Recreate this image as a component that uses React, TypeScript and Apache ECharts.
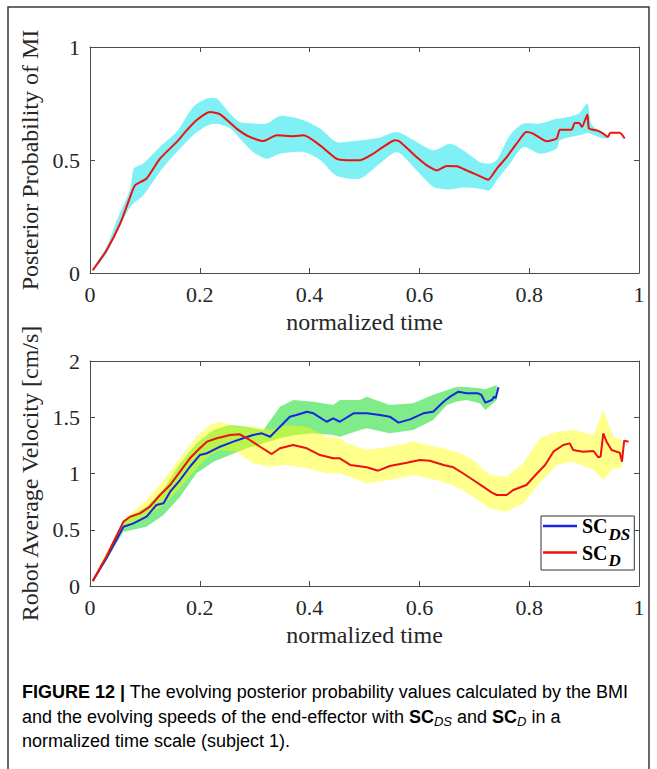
import React, { useEffect, useRef } from "react";
import * as echarts from "echarts";

// ---------- Top panel: posterior probability of MI ----------
const probT = [0.005, 0.03, 0.055, 0.073, 0.082, 0.103, 0.1275, 0.158, 0.176, 0.194, 0.2186, 0.237, 0.267, 0.291, 0.316, 0.34, 0.37, 0.389, 0.419, 0.449, 0.468, 0.492, 0.516, 0.534, 0.556, 0.565, 0.595, 0.613, 0.632, 0.65, 0.668, 0.686, 0.704, 0.716, 0.725, 0.741, 0.759, 0.777, 0.795, 0.807, 0.832, 0.85, 0.856, 0.877, 0.883, 0.891, 0.896, 0.906, 0.909, 0.923, 0.935, 0.943, 0.948, 0.965, 0.97, 0.974];
const probMean = [0.012, 0.1, 0.219, 0.336, 0.388, 0.418, 0.506, 0.58, 0.631, 0.676, 0.712, 0.702, 0.639, 0.602, 0.584, 0.609, 0.605, 0.609, 0.565, 0.506, 0.499, 0.499, 0.528, 0.558, 0.587, 0.58, 0.513, 0.477, 0.454, 0.474, 0.472, 0.454, 0.435, 0.422, 0.413, 0.462, 0.513, 0.572, 0.624, 0.617, 0.583, 0.595, 0.634, 0.634, 0.664, 0.664, 0.646, 0.701, 0.639, 0.631, 0.617, 0.602, 0.621, 0.621, 0.609, 0.595];
const probBandT = [0.005, 0.03, 0.05, 0.073, 0.08, 0.097, 0.127, 0.158, 0.188, 0.213, 0.231, 0.255, 0.273, 0.297, 0.322, 0.346, 0.389, 0.419, 0.449, 0.492, 0.528, 0.559, 0.595, 0.626, 0.656, 0.68, 0.71, 0.728, 0.741, 0.765, 0.789, 0.819, 0.85, 0.856, 0.89, 0.906, 0.913, 0.929, 0.94];
const probUpper = [0.02, 0.115, 0.24, 0.37, 0.462, 0.484, 0.558, 0.625, 0.735, 0.772, 0.772, 0.705, 0.668, 0.662, 0.661, 0.695, 0.676, 0.639, 0.58, 0.587, 0.6, 0.624, 0.58, 0.543, 0.572, 0.543, 0.491, 0.484, 0.5, 0.61, 0.66, 0.661, 0.683, 0.683, 0.705, 0.75, 0.66, 0.625, 0.605];
const probLower = [0.008, 0.085, 0.19, 0.292, 0.31, 0.344, 0.447, 0.535, 0.61, 0.652, 0.66, 0.64, 0.595, 0.535, 0.506, 0.528, 0.535, 0.5, 0.43, 0.418, 0.484, 0.535, 0.454, 0.381, 0.37, 0.378, 0.373, 0.366, 0.41, 0.484, 0.558, 0.528, 0.55, 0.587, 0.609, 0.62, 0.615, 0.6, 0.595];

// ---------- Bottom panel: robot average velocity ----------
const dsT = [0.005, 0.03, 0.061, 0.079, 0.103, 0.121, 0.134, 0.146, 0.164, 0.182, 0.2, 0.213, 0.237, 0.261, 0.279, 0.297, 0.313, 0.328, 0.346, 0.364, 0.376, 0.395, 0.407, 0.431, 0.443, 0.455, 0.48, 0.504, 0.528, 0.546, 0.562, 0.583, 0.607, 0.625, 0.644, 0.656, 0.671, 0.686, 0.707, 0.713, 0.72, 0.732, 0.736, 0.739, 0.744];
const dsMean = [0.044, 0.246, 0.527, 0.557, 0.616, 0.72, 0.735, 0.838, 0.942, 1.06, 1.164, 1.18, 1.238, 1.283, 1.313, 1.342, 1.357, 1.327, 1.416, 1.505, 1.52, 1.549, 1.535, 1.46, 1.49, 1.46, 1.535, 1.535, 1.52, 1.505, 1.452, 1.481, 1.535, 1.549, 1.638, 1.683, 1.727, 1.713, 1.713, 1.698, 1.63, 1.653, 1.683, 1.668, 1.766];
const dsBandT = [0.005, 0.061, 0.103, 0.134, 0.164, 0.194, 0.225, 0.255, 0.285, 0.316, 0.346, 0.37, 0.407, 0.443, 0.455, 0.492, 0.504, 0.546, 0.589, 0.625, 0.65, 0.668, 0.686, 0.71, 0.72, 0.741];
const dsUpper = [0.06, 0.58, 0.705, 0.86, 1.09, 1.268, 1.387, 1.431, 1.416, 1.387, 1.594, 1.653, 1.638, 1.609, 1.653, 1.653, 1.683, 1.609, 1.624, 1.7, 1.74, 1.772, 1.77, 1.757, 1.75, 1.787];
const dsLower = [0.03, 0.483, 0.527, 0.631, 0.794, 1.002, 1.105, 1.164, 1.224, 1.268, 1.313, 1.34, 1.357, 1.342, 1.327, 1.387, 1.402, 1.357, 1.387, 1.476, 1.609, 1.64, 1.653, 1.624, 1.564, 1.653];

const dT = [0.005, 0.03, 0.061, 0.073, 0.091, 0.109, 0.1275, 0.146, 0.164, 0.182, 0.2, 0.213, 0.231, 0.255, 0.273, 0.291, 0.31, 0.331, 0.346, 0.37, 0.395, 0.419, 0.443, 0.455, 0.474, 0.504, 0.525, 0.546, 0.577, 0.601, 0.619, 0.644, 0.662, 0.68, 0.698, 0.716, 0.732, 0.741, 0.759, 0.771, 0.795, 0.814, 0.829, 0.844, 0.862, 0.874, 0.88, 0.898, 0.917, 0.926, 0.93, 0.935, 0.941, 0.95, 0.959, 0.965, 0.969, 0.973, 0.981];
const dMean = [0.044, 0.262, 0.572, 0.616, 0.646, 0.705, 0.809, 0.898, 1.016, 1.135, 1.224, 1.283, 1.313, 1.342, 1.348, 1.298, 1.238, 1.173, 1.224, 1.253, 1.224, 1.164, 1.135, 1.135, 1.076, 1.055, 1.025, 1.067, 1.096, 1.12, 1.114, 1.076, 1.055, 1.0, 0.942, 0.883, 0.83, 0.809, 0.809, 0.853, 0.898, 1.0, 1.076, 1.194, 1.253, 1.268, 1.209, 1.194, 1.2, 1.144, 1.15, 1.357, 1.283, 1.209, 1.194, 1.185, 1.105, 1.292, 1.283];
const dBandT = [0.005, 0.061, 0.103, 0.134, 0.164, 0.194, 0.218, 0.237, 0.267, 0.297, 0.328, 0.358, 0.395, 0.431, 0.455, 0.468, 0.504, 0.546, 0.589, 0.631, 0.668, 0.698, 0.728, 0.759, 0.789, 0.819, 0.85, 0.88, 0.917, 0.935, 0.953, 0.969];
const dUpper = [0.06, 0.587, 0.764, 0.942, 1.135, 1.327, 1.431, 1.46, 1.416, 1.416, 1.387, 1.431, 1.416, 1.327, 1.313, 1.268, 1.209, 1.238, 1.283, 1.238, 1.194, 1.12, 0.987, 0.972, 1.09, 1.313, 1.372, 1.387, 1.342, 1.564, 1.327, 1.298];
const dLower = [0.03, 0.527, 0.616, 0.72, 0.868, 1.046, 1.164, 1.209, 1.194, 1.09, 1.06, 1.076, 1.046, 1.002, 1.002, 0.98, 0.913, 0.942, 0.987, 0.942, 0.883, 0.794, 0.69, 0.66, 0.735, 0.913, 1.076, 1.105, 1.031, 0.942, 1.046, 1.046];

const SERIF = "'Liberation Serif', 'Times New Roman', serif";
const SANS = "'Liberation Sans', Arial, sans-serif";
const AXIS_COLOR = "#4a4a4a";
const TEXT_COLOR = "#262626";

const pairs = (t: number[], v: number[]) => t.map((x, i) => [x, v[i]]);

function bandSeries(name: string, xi: number, yi: number, t: number[], up: number[], lo: number[], color: string, z: number, smooth: number) {
  return {
    type: "custom",
    name,
    xAxisIndex: xi,
    yAxisIndex: yi,
    z,
    silent: true,
    data: [[t[0], lo[0]]],
    renderItem: (_p: any, api: any) => {
      const pts: number[][] = [];
      for (let i = 0; i < t.length; i++) pts.push(api.coord([t[i], up[i]]));
      for (let i = t.length - 1; i >= 0; i--) pts.push(api.coord([t[i], lo[i]]));
      return { type: "polygon", shape: { points: pts, smooth }, style: { fill: color } };
    },
  };
}

function xAxes(gridIndex: number) {
  return [
    {
      type: "value", gridIndex, min: 0, max: 1, interval: 0.2, position: "bottom",
      name: "normalized time", nameLocation: "middle", nameGap: 37,
      nameTextStyle: { fontFamily: SERIF, fontSize: 24, color: TEXT_COLOR },
      axisLine: { show: true, onZero: false, lineStyle: { color: AXIS_COLOR, width: 1 } },
      axisTick: { show: true, inside: true, length: 5, lineStyle: { color: AXIS_COLOR } },
      axisLabel: { fontFamily: SERIF, fontSize: 22, color: TEXT_COLOR, margin: 10 },
      splitLine: { show: false },
    },
    {
      type: "value", gridIndex, min: 0, max: 1, interval: 0.2, position: "top",
      axisLine: { show: true, onZero: false, lineStyle: { color: AXIS_COLOR, width: 1 } },
      axisTick: { show: true, inside: true, length: 5, lineStyle: { color: AXIS_COLOR } },
      axisLabel: { show: false },
      splitLine: { show: false },
    },
  ];
}

function yAxes(gridIndex: number, max: number, interval: number, name: string, nameGap: number) {
  return [
    {
      type: "value", gridIndex, min: 0, max, interval, position: "left",
      name, nameLocation: "middle", nameGap, nameRotate: 90,
      nameTextStyle: { fontFamily: SERIF, fontSize: 24, color: TEXT_COLOR },
      axisLine: { show: true, onZero: false, lineStyle: { color: AXIS_COLOR, width: 1 } },
      axisTick: { show: true, inside: true, length: 5, lineStyle: { color: AXIS_COLOR } },
      axisLabel: { fontFamily: SERIF, fontSize: 22, color: TEXT_COLOR, margin: 10 },
      splitLine: { show: false },
    },
    {
      type: "value", gridIndex, min: 0, max, interval, position: "right",
      axisLine: { show: true, onZero: false, lineStyle: { color: AXIS_COLOR, width: 1 } },
      axisTick: { show: true, inside: true, length: 5, lineStyle: { color: AXIS_COLOR } },
      axisLabel: { show: false },
      splitLine: { show: false },
    },
  ];
}

export default function App() {
  const ref = useRef<HTMLDivElement>(null);
  useEffect(() => {
    if (!ref.current) return;
    const chart = echarts.init(ref.current, undefined, { renderer: "svg" });
    const capStyle = {
      n: { fontFamily: SANS, fontSize: 18, color: "#404040" },
      b: { fontFamily: SANS, fontSize: 18, color: "#1a1a1a", fontWeight: "bold" },
      s: { fontFamily: SANS, fontSize: 13, color: "#404040", fontStyle: "italic", padding: [9, 0, 0, 0] },
    };
    chart.setOption({
      animation: false,
      backgroundColor: "#ffffff",
      grid: [
        { left: 90, top: 47, width: 549, height: 226 },
        { left: 90, top: 361, width: 549, height: 225 },
      ],
      xAxis: [...xAxes(0), ...xAxes(1)],
      yAxis: [
        ...yAxes(0, 1, 0.5, "Posterior Probability of MI", 38),
        ...yAxes(1, 2, 0.5, "Robot Average Velocity [cm/s]", 38),
      ],
      legend: {
        data: ["SC_DS", "SC_D"],
        orient: "vertical",
        left: 541,
        top: 516,
        padding: [0, 4, 1, 2],
        itemGap: 0,
        itemWidth: 34,
        itemHeight: 2.5,
        icon: "rect",
        borderColor: "#333",
        borderWidth: 1,
        backgroundColor: "#ffffff",
        formatter: (name: string) => (name === "SC_DS" ? "{m|SC}{s|DS}" : "{m|SC}{s|D}"),
        textStyle: {
          rich: {
            m: { fontFamily: SERIF, fontWeight: "bold", fontSize: 20, color: "#000" },
            s: { fontFamily: SERIF, fontWeight: "bold", fontStyle: "italic", fontSize: 17, color: "#000", padding: [16, 0, 0, 1] },
          },
        },
      },
      series: [
        bandSeries("bandProb", 0, 0, probBandT, probUpper, probLower, "rgba(0, 226, 232, 0.5)", 1, 0.25),
        {
          type: "line", name: "posterior", xAxisIndex: 0, yAxisIndex: 0, z: 3,
          data: pairs(probT, probMean), symbol: "none", showSymbol: false, smooth: 0.2,
          lineStyle: { color: "#ee1111", width: 2 },
        },
        bandSeries("bandDS", 2, 2, dsBandT, dsUpper, dsLower, "rgba(0, 215, 20, 0.5)", 1, 0),
        bandSeries("bandD", 2, 2, dBandT, dUpper, dLower, "rgba(255, 255, 0, 0.45)", 1, 0),
        {
          type: "line", name: "SC_DS", xAxisIndex: 2, yAxisIndex: 2, z: 3,
          data: pairs(dsT, dsMean), symbol: "none", showSymbol: false,
          itemStyle: { color: "#1428e0" },
          lineStyle: { color: "#1428e0", width: 2 },
        },
        {
          type: "line", name: "SC_D", xAxisIndex: 2, yAxisIndex: 2, z: 4,
          data: pairs(dT, dMean), symbol: "none", showSymbol: false,
          itemStyle: { color: "#ee1111" },
          lineStyle: { color: "#ee1111", width: 2 },
        },
      ],
      graphic: [
        {
          type: "rect", silent: true, z: 0,
          shape: { x: 8, y: 7, width: 641, height: 800 },
          style: { fill: "none", stroke: "#3a3a3a", lineWidth: 1.5 },
        },
        {
          type: "text", left: 22, top: 683, silent: true,
          style: {
            text: "{b|FIGURE 12 |}{n| The evolving posterior probability values calculated by the BMI}",
            rich: capStyle,
          },
        },
        {
          type: "text", left: 22, top: 708, silent: true,
          style: {
            text: "{n|and the evolving speeds of the end-effector with }{b|SC}{s|DS}{n| and }{b|SC}{s|D}{n| in a}",
            rich: capStyle,
          },
        },
        {
          type: "text", left: 22, top: 732, silent: true,
          style: {
            text: "{n|normalized time scale (subject 1).}",
            rich: capStyle,
          },
        },
      ],
    });
    return () => chart.dispose();
  }, []);
  return <div ref={ref} style={{ position: "absolute", left: 0, top: 0, width: 657, height: 769 }} />;
}
